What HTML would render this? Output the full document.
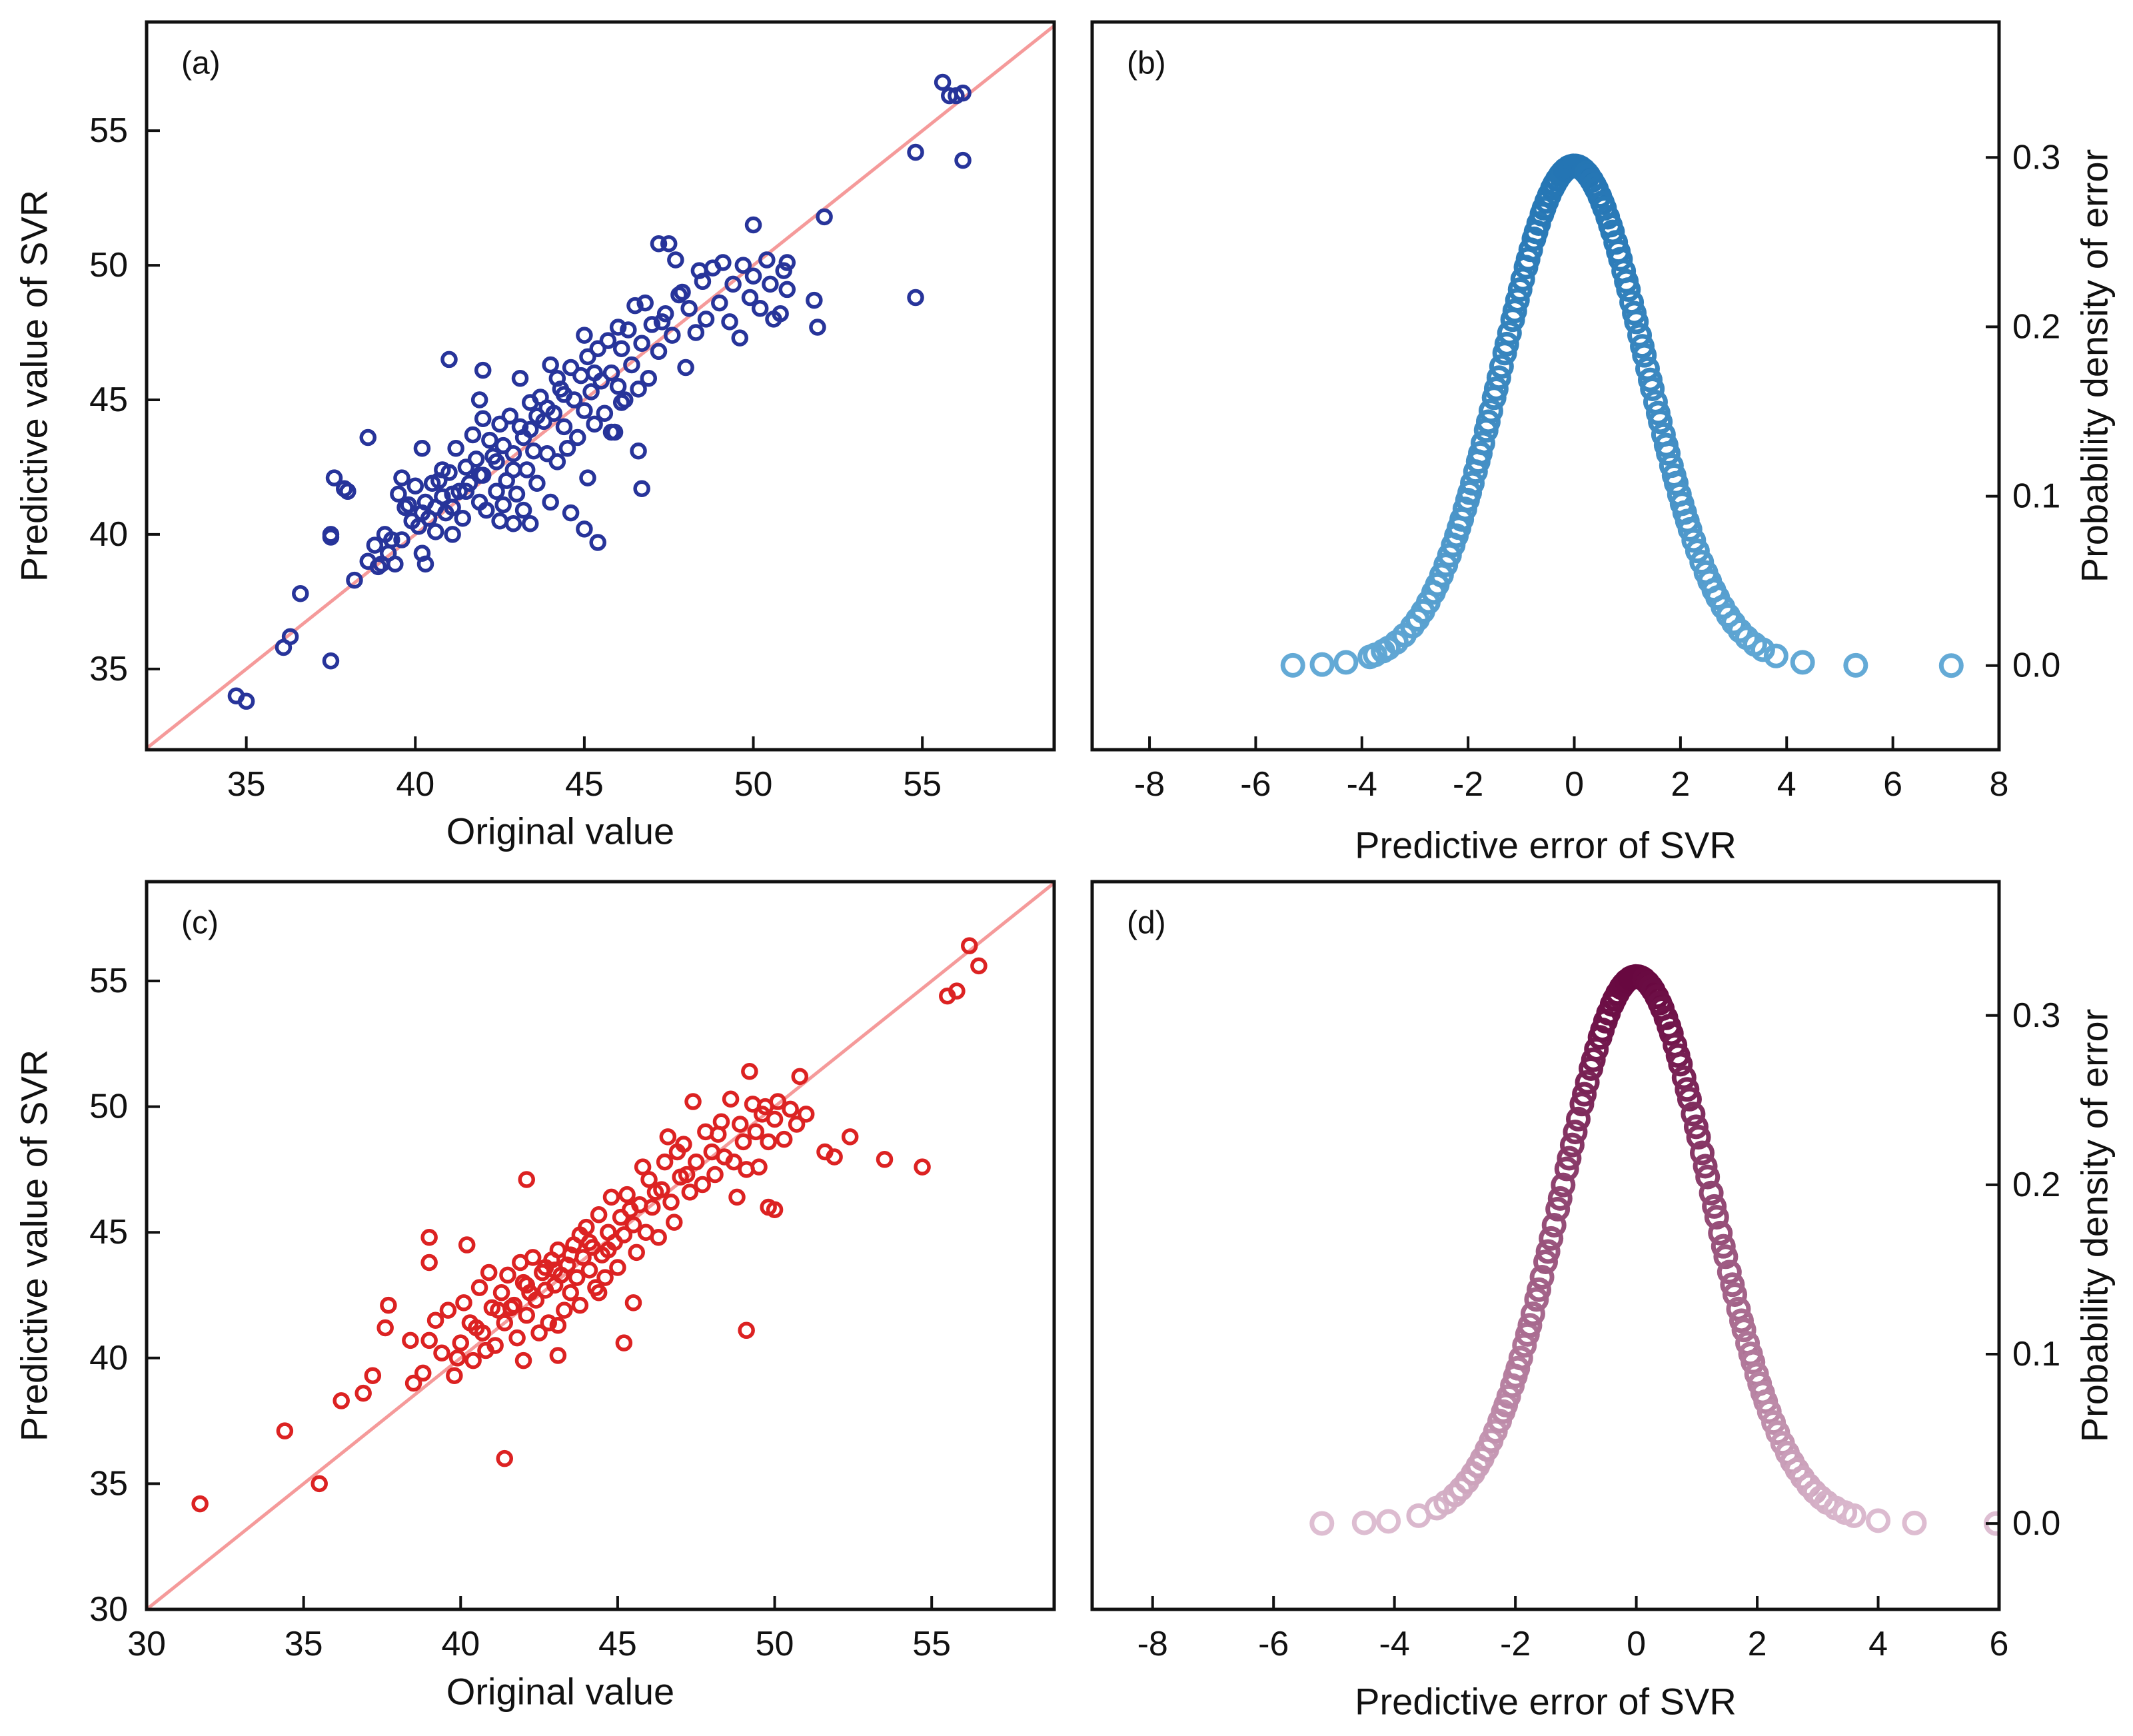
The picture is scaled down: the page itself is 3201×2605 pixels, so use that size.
<!DOCTYPE html>
<html><head><meta charset="utf-8"><style>
html,body{margin:0;padding:0;background:#fff}
svg{display:block}
text{font-family:"Liberation Sans",Arial,sans-serif;fill:#111}
</style></head><body>
<svg id="fig" xmlns="http://www.w3.org/2000/svg" width="3201" height="2605" viewBox="0 0 3201 2605">
<rect x="0" y="0" width="3201" height="2605" fill="#fff"/>
</svg>
<script>
// ---- data ----
const scatterAOrig = [34.7,35.0,36.1,36.3,36.6,37.5,37.5,37.5,37.6,37.9,38.0,38.2,38.6,41.0,42.0,43.1,45.0,47.2,47.5,47.7,50.0,52.1,51.8,51.9,54.8,54.8,55.6,55.8,56.0,56.2,56.2,44.6,45.0,45.4,46.7,46.6,45.1,40.2,40.3,42.5,43.4,42.9,41.1,
38.6,38.8,39.0,39.1,39.2,39.4,39.5,39.6,39.7,39.9,40.0,40.1,40.2,40.3,40.4,40.5,40.6,40.7,40.8,40.9,41.0,41.1,41.2,41.3,41.4,41.5,41.6,41.7,41.8,41.9,42.0,42.0,42.1,42.2,42.3,42.4,42.5,42.6,42.7,42.8,42.9,43.0,43.1,43.2,43.3,43.4,43.5,43.6,43.7,43.8,43.9,44.0,44.1,44.2,44.3,44.4,44.5,44.6,44.7,44.8,44.9,45.0,45.1,45.2,45.3,45.4,45.5,45.6,45.7,45.8,45.9,46.0,46.1,46.2,46.3,46.4,46.5,46.6,46.7,46.8,46.9,47.0,47.2,47.4,47.6,47.8,48.0,48.1,48.3,48.5,48.6,48.8,49.0,49.1,49.3,49.4,49.6,49.7,49.9,50.0,50.2,50.4,50.5,50.6,50.8,50.9,51.0,51.0,48.4,47.9,47.3,46.0,45.3,44.4,43.9,43.4,42.9,42.4,41.9,41.5,41.1,40.6,40.2,39.8,39.3,38.9,43.2,44.0,45.8,46.1,44.2,43.6,42.6,41.9,40.8,39.6];
const scatterAPred = [34.0,33.8,35.8,36.2,37.8,35.3,39.9,40.0,42.1,41.7,41.6,38.3,43.6,46.5,46.1,45.8,47.4,50.8,50.8,50.2,51.5,51.8,48.7,47.7,54.2,48.8,56.8,56.3,56.3,56.4,53.9,40.8,40.2,39.7,41.7,43.1,42.1,39.3,38.9,40.5,40.4,40.4,40.0,
39.0,39.6,38.9,40.0,39.3,38.9,41.5,42.1,41.0,40.5,41.8,40.3,43.2,41.2,40.6,41.9,40.1,42.0,41.4,40.8,42.3,41.0,43.2,41.6,40.6,42.5,41.9,43.7,42.8,41.2,44.3,42.2,40.9,43.5,42.9,41.6,44.1,43.3,42.0,44.4,43.0,41.5,44.0,43.6,42.4,44.9,43.1,41.9,45.1,44.2,43.0,46.3,44.5,42.7,45.4,44.0,43.2,46.2,45.0,43.6,45.9,44.6,46.6,45.3,44.1,46.9,45.7,44.5,47.2,46.0,43.8,45.5,46.9,45.0,47.6,46.3,48.5,45.4,47.1,48.6,45.8,47.8,46.8,48.2,47.4,48.9,46.2,48.4,47.5,49.4,48.0,49.9,48.6,50.1,47.9,49.3,47.3,50.0,48.8,49.6,48.4,50.2,49.3,48.0,48.2,49.8,50.1,49.1,49.8,49.0,47.9,47.7,46.0,45.2,44.7,43.9,42.4,42.7,42.2,41.6,41.5,41.0,40.8,41.1,39.8,38.8,40.9,41.2,43.8,44.9,45.8,44.4,41.1,45.0,42.4,39.8];

const scatterCOrig = [31.7,34.4,35.5,36.2,36.9,37.2,37.6,37.7,38.4,39.0,39.0,40.2,42.1,41.4,42.0,43.1,45.2,45.5,49.1,49.2,50.8,51.6,51.9,52.4,53.5,54.7,55.5,55.8,56.2,56.5,49.8,50.0,46.6,
38.5,38.8,39.0,39.2,39.4,39.6,39.8,40.0,40.1,40.3,40.4,40.6,40.7,40.9,41.0,41.1,41.3,41.4,41.5,41.7,41.8,42.0,42.1,42.2,42.3,42.4,42.5,42.6,42.7,42.8,42.9,43.0,43.1,43.2,43.3,43.4,43.5,43.6,43.7,43.8,43.9,44.0,44.1,44.2,44.3,44.4,44.5,44.6,44.7,44.8,44.9,45.0,45.1,45.2,45.3,45.5,45.6,45.7,45.9,46.0,46.1,46.3,46.4,46.5,46.7,46.8,47.0,47.1,47.3,47.4,47.5,47.7,47.8,48.0,48.1,48.3,48.4,48.6,48.7,48.9,49.0,49.1,49.3,49.4,49.5,49.7,49.8,50.0,50.1,50.3,50.5,50.7,51.0,41.6,42.1,43.0,43.5,44.1,44.7,45.4,46.2,47.2,48.2,40.5,39.9,41.9,43.1,44.4,45.8,46.9,48.8,49.6,43.8,42.7,41.2,40.8];
const scatterCPred = [34.2,37.1,35.0,38.3,38.6,39.3,41.2,42.1,40.7,44.8,43.8,44.5,47.1,36.0,39.9,40.1,40.6,42.2,41.1,51.4,51.2,48.2,48.0,48.8,47.9,47.6,54.4,54.6,56.4,55.6,46.0,45.9,48.8,
39.0,39.4,40.7,41.5,40.2,41.9,39.3,40.6,42.2,41.4,39.9,42.8,41.0,43.4,42.0,40.5,42.6,41.4,43.3,42.1,40.8,43.0,41.7,42.6,44.0,42.3,41.0,43.4,42.7,41.4,43.9,42.9,44.3,43.3,41.9,43.7,42.6,44.5,43.2,42.1,44.0,45.2,43.5,44.4,42.8,45.7,44.1,43.2,45.0,46.4,44.6,43.6,45.6,44.9,46.5,45.3,44.2,46.1,45.0,47.1,46.0,44.8,46.7,47.8,46.2,45.4,47.2,48.5,46.6,50.2,47.8,46.9,49.0,48.2,47.3,49.4,48.0,50.3,47.8,49.3,48.6,47.5,50.1,49.0,47.6,50.0,48.6,49.5,50.2,48.7,49.9,49.3,49.7,42.0,42.9,43.5,44.1,44.6,44.3,45.9,46.6,47.3,48.9,41.2,40.0,43.8,41.3,42.6,47.6,48.2,46.4,49.7,44.9,43.6,41.9,40.3];

const errorsB = [-5.3,-4.75,-4.3,-3.85,-3.75,-3.6,-3.5,-3.35,-3.2,-3.05,-2.95,-2.85,-2.75,-2.65,-2.58,-2.5,-2.42,-2.35,-2.28,-2.22,
-2.17,-2.12,-2.06,-2.01,-1.97,-1.92,-1.86,-1.81,-1.77,-1.72,-1.66,-1.62,-1.57,-1.51,-1.47,-1.42,-1.37,-1.31,-1.27,-1.22,-1.16,-1.12,-1.07,-1.02,-0.97,-0.91,-0.87,-0.82,-0.76,-0.72,-0.67,-0.61,-0.57,-0.52,-0.47,-0.41,-0.37,-0.32,-0.26,-0.22,-0.17,-0.11,-0.07,-0.02,0.03,0.08,0.12,0.18,0.23,0.27,0.33,0.38,0.42,0.48,0.53,0.57,0.63,0.68,0.72,0.78,0.83,0.87,0.93,0.98,1.02,1.08,1.13,1.17,1.23,1.28,1.32,1.38,1.43,1.47,1.53,1.58,1.62,1.68,1.73,1.77,1.83,1.88,1.92,1.98,2.03,2.08,2.13,2.18,
2.25,2.32,2.4,2.48,2.55,2.63,2.7,2.8,2.9,3.0,3.12,3.25,3.4,3.55,3.8,4.3,5.3,7.1];
const fitB = [0, 1.352]; // mean, sd of error distribution

const errorsD = [-5.2,-4.5,-4.1,-3.6,-3.3,-3.15,-3.0,-2.9,-2.8,-2.7,-2.62,-2.55,-2.47,-2.4,-2.33,-2.26,-2.2,
-2.16,-2.11,-2.05,-2.0,-1.96,-1.91,-1.85,-1.8,-1.76,-1.71,-1.65,-1.61,-1.56,-1.5,-1.46,-1.41,-1.36,-1.3,-1.26,-1.21,-1.15,-1.11,-1.06,-1.01,-0.96,-0.9,-0.86,-0.81,-0.75,-0.71,-0.66,-0.6,-0.56,-0.51,-0.46,-0.4,-0.36,-0.31,-0.25,-0.21,-0.16,-0.1,-0.06,-0.01,0.04,0.09,0.13,0.19,0.24,0.28,0.34,0.39,0.43,0.49,0.54,0.58,0.64,0.69,0.73,0.79,0.84,0.88,0.94,0.99,1.03,1.09,1.14,1.18,1.24,1.29,1.33,1.39,1.44,1.48,1.54,1.59,1.63,1.69,1.74,1.78,1.84,1.89,1.93,1.99,2.04,2.09,2.14,
2.2,2.27,2.34,2.42,2.5,2.58,2.66,2.75,2.85,2.95,3.05,3.15,3.3,3.45,3.6,4.0,4.6,5.95];
const fitD = [0, 1.235];

const ticksScatterA = [35,40,45,50,55];
const ticksScatterC = [30,35,40,45,50,55];
const ticksErrB = [-8,-6,-4,-2,0,2,4,6,8];
const ticksErrD = [-8,-6,-4,-2,0,2,4,6];
const ticksDens = [0.0,0.1,0.2,0.3];

// ---- drawing ----
const NS = 'http://www.w3.org/2000/svg';
const svg = document.getElementById('fig');
function mk(tag, attrs, parent){
  const e = document.createElementNS(NS, tag);
  for (const k in attrs) e.setAttribute(k, attrs[k]);
  (parent||svg).appendChild(e);
  return e;
}
function lin(d0,d1,r0,r1){return v => r0 + (v-d0)/(d1-d0)*(r1-r0);}
function txt(x,y,s,size,anchor,rot,name,parent){
  const t = mk('text',{x:x,y:y,'font-size':size,'text-anchor':anchor||'middle','dominant-baseline':'central'},parent);
  if (rot) t.setAttribute('transform','rotate('+rot+' '+x+' '+y+')');
  t.textContent = s;
  
  
  return t;
}
function mix(c1,c2,t){
  const r=Math.round(c1[0]+(c2[0]-c1[0])*t),g=Math.round(c1[1]+(c2[1]-c1[1])*t),b=Math.round(c1[2]+(c2[2]-c1[2])*t);
  return 'rgb('+r+','+g+','+b+')';
}

function panel(cfg){
  const g = mk('g',{});
  
  
  const {L,R,T,B} = cfg;
  const sx = lin(cfg.xd[0],cfg.xd[1],L,R), sy = lin(cfg.yd[0],cfg.yd[1],B,T);
  const clipId = cfg.name+'-clip';
  const cp = mk('clipPath',{id:clipId},g);
  mk('rect',{x:L,y:T,width:R-L,height:B-T},cp);
  const plot = mk('g',{'clip-path':'url(#'+clipId+')'},g);
  
  
  cfg.draw(plot,sx,sy);
  const fr = mk('rect',{x:L,y:T,width:R-L,height:B-T,fill:'none',stroke:'#111','stroke-width':5},g);
  
  
  cfg.xt.forEach(v=>{
    const x = sx(v);
    const tk = mk('line',{x1:x,x2:x,y1:B,y2:B-20,stroke:'#111','stroke-width':4},g);
    
    
    txt(x,B+52,String(v),52,'middle',0,'x-tick-label',g);
  });
  cfg.yt.forEach(v=>{
    const y = sy(v);
    if (cfg.yRight){
      const tk = mk('line',{x1:R,x2:R-20,y1:y,y2:y,stroke:'#111','stroke-width':4},g);
      
      
      txt(R+20,y,v.toFixed(1),52,'start',0,'y-tick-label',g);
    } else {
      const tk = mk('line',{x1:L,x2:L+20,y1:y,y2:y,stroke:'#111','stroke-width':4},g);
      
      
      txt(L-28,y,String(v),52,'end',0,'y-tick-label',g);
    }
  });
  txt((L+R)/2 + (cfg.xtOff||0), cfg.xtY, cfg.xTitle, 56,'middle',0,'x-axis-title',g);
  txt(cfg.ytX,(T+B)/2 + (cfg.ytOff||0), cfg.yTitle, 56,'middle',-90,'y-axis-title',g);
  txt(L+52,T+62,cfg.tag,48,'start',0,'panel-label',g);
}

function scatterDraw(xs,ys,col,lo,hi){
  return function(plot,sx,sy){
    const ln = mk('line',{x1:sx(lo),y1:sy(lo),x2:sx(hi),y2:sy(hi),stroke:'#f59a9a','stroke-width':5},plot);
    
    
    xs.forEach((v,i)=>{
      const c = mk('circle',{cx:sx(v),cy:sy(ys[i]),r:10,fill:'none',stroke:col,'stroke-width':5.5},plot);
      
      
    });
  };
}
function densDraw(errs,fit,cPeak,cTail,r,sw){
  return function(plot,sx,sy){
    const pk = 1/(fit[1]*Math.sqrt(2*Math.PI));
    errs.forEach(e=>{
      const d = pk*Math.exp(-0.5*((e-fit[0])/fit[1])**2);
      const c = mk('circle',{cx:sx(e),cy:sy(d),r:r,fill:'none',stroke:mix(cTail,cPeak,Math.pow(d/pk,0.8)),'stroke-width':sw},plot);
      
      
    });
  };
}

panel({name:'panel-a',tag:'(a)',L:220,R:1582,T:33,B:1125,xd:[32.05,58.9],yd:[32.0,59.04],xt:ticksScatterA,yt:ticksScatterA,
  xTitle:'Original value',yTitle:'Predictive value of SVR',xtY:1247,ytX:51,xtOff:-60,
  draw:scatterDraw(scatterAOrig,scatterAPred,'#27349a',30,60)});
panel({name:'panel-b',tag:'(b)',L:1639,R:3000,T:33,B:1125,xd:[-9.08,8],yd:[-0.0497,0.38],xt:ticksErrB,yt:ticksDens,yRight:true,
  xTitle:'Predictive error of SVR',xtY:1268,ytX:3143,ytOff:-30,yTitle:'Probability density of error',
  draw:densDraw(errorsB,fitB,[36,117,180],[100,170,214],15,7)});
panel({name:'panel-c',tag:'(c)',L:220,R:1582,T:1323,B:2415,xd:[30,58.9],yd:[30,58.95],xt:ticksScatterC,yt:ticksScatterC,
  xTitle:'Original value',yTitle:'Predictive value of SVR',xtY:2538,ytX:51,xtOff:-60,
  draw:scatterDraw(scatterCOrig,scatterCPred,'#dc2222',29,60)});
panel({name:'panel-d',tag:'(d)',L:1639,R:3000,T:1323,B:2415,xd:[-9.0,6],yd:[-0.0507,0.379],xt:ticksErrD,yt:ticksDens,yRight:true,
  xTitle:'Predictive error of SVR',xtY:2553,ytX:3143,ytOff:-30,yTitle:'Probability density of error',
  draw:densDraw(errorsD,fitD,[104,8,64],[222,190,210],15,7)});
</script>
</body></html>
